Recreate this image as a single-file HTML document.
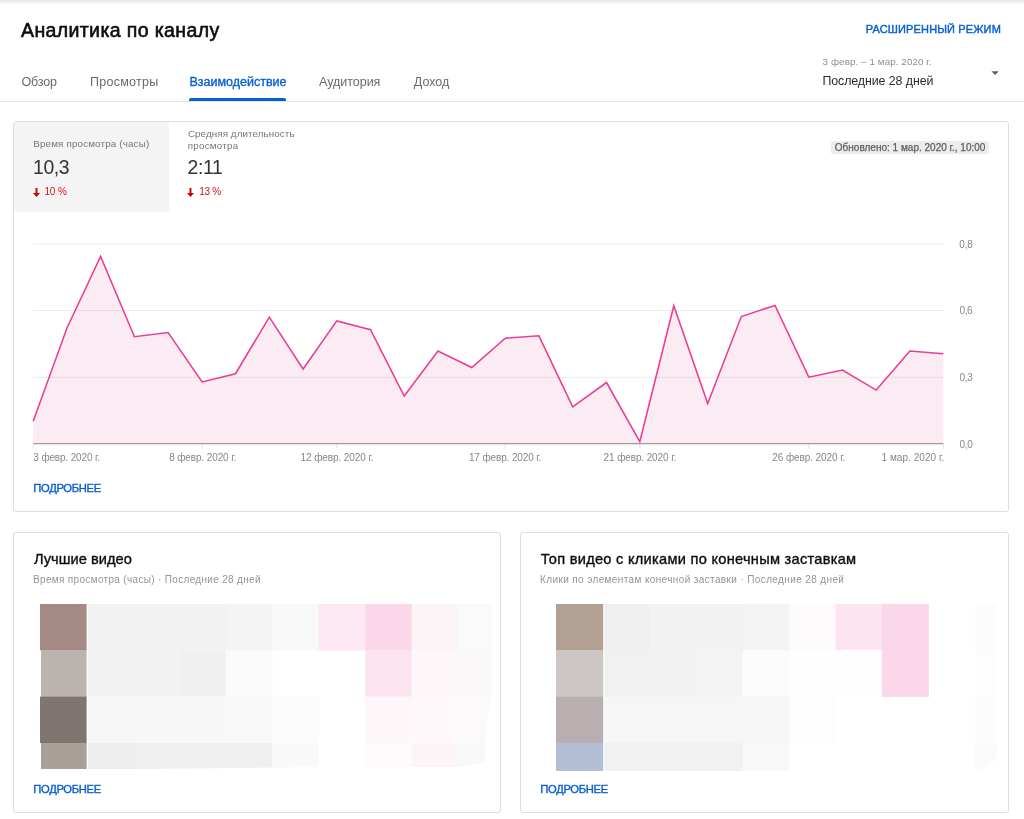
<!DOCTYPE html>
<html lang="ru">
<head>
<meta charset="utf-8">
<title>Аналитика по каналу</title>
<style>
html,body{margin:0;padding:0;}
body{width:1024px;height:819px;position:relative;overflow:hidden;background:#fff;font-family:"Liberation Sans", sans-serif;}
.t{position:absolute;white-space:nowrap;line-height:1;margin:0;padding:0;}
.card{position:absolute;box-sizing:border-box;border:1px solid #dedede;border-radius:3px;background:#fff;}
.abs{position:absolute;}
#w{position:absolute;left:0;top:0;width:1024px;height:819px;will-change:transform;background:#fff;}
</style>
</head>
<body>
<div id="w">
<div class="abs" style="left:0;top:0;width:1024px;height:5px;background:linear-gradient(#e5e5e5,#f4f4f4 50%,#fff);"></div>
<div class="abs" style="left:0;top:100.5px;width:1024px;height:1px;background:#e3e3e3;"></div>
<div class="abs" style="left:188.8px;top:98px;width:97.4px;height:3px;background:#065fd4;border-radius:2px 2px 0 0;"></div>
<svg class="abs" style="left:990px;top:70px;" width="10" height="6" viewBox="0 0 10 6"><path d="M1.4 1.2 L8.8 1.2 L5.1 4.9 Z" fill="#5f5f5f"/></svg>
<div class="card" style="left:13px;top:121px;width:996px;height:391px;"></div>
<div class="card" style="left:13px;top:532px;width:488px;height:281px;"></div>
<div class="card" style="left:520px;top:532px;width:489px;height:281px;"></div>
<div class="abs" style="left:14px;top:122px;width:154.5px;height:89.7px;background:#f4f4f4;border-radius:2px 0 0 0;"></div>
<div class="abs" style="left:831px;top:141px;width:158px;height:13.3px;background:#ececec;border-radius:2px;"></div>
<svg class="abs" style="left:31.95px;top:187px;" width="9" height="11" viewBox="0 0 9 11"><path d="M3.55 0.9 H5.45 V5.9 H8.0 L4.5 9.9 L1.0 5.9 H3.55 Z" fill="#cc0000"/></svg>
<svg class="abs" style="left:186.35px;top:187px;" width="9" height="11" viewBox="0 0 9 11"><path d="M3.55 0.9 H5.45 V5.9 H8.0 L4.5 9.9 L1.0 5.9 H3.55 Z" fill="#cc0000"/></svg>
<svg class="abs" style="left:0;top:230px;" width="1024" height="230" viewBox="0 230 1024 230">
<line x1="33.2" x2="943.3" y1="243.9" y2="243.9" stroke="#ececec" stroke-width="1"/>
<line x1="33.2" x2="943.3" y1="310.5" y2="310.5" stroke="#ececec" stroke-width="1"/>
<line x1="33.2" x2="943.3" y1="377.3" y2="377.3" stroke="#ececec" stroke-width="1"/>
<line x1="33.2" x2="33.2" y1="443.6" y2="448.6" stroke="#e4e4e4" stroke-width="1"/>
<line x1="202.1" x2="202.1" y1="443.6" y2="448.6" stroke="#e4e4e4" stroke-width="1"/>
<line x1="336.8" x2="336.8" y1="443.6" y2="448.6" stroke="#e4e4e4" stroke-width="1"/>
<line x1="505.3" x2="505.3" y1="443.6" y2="448.6" stroke="#e4e4e4" stroke-width="1"/>
<line x1="639.8" x2="639.8" y1="443.6" y2="448.6" stroke="#e4e4e4" stroke-width="1"/>
<line x1="808.8" x2="808.8" y1="443.6" y2="448.6" stroke="#e4e4e4" stroke-width="1"/>
<line x1="943.3" x2="943.3" y1="443.6" y2="448.6" stroke="#e4e4e4" stroke-width="1"/>
<polygon points="33.2,421.2 66.9,328.2 100.6,256.4 134.4,336.7 168.1,332.6 202.1,381.9 235.5,373.7 269.3,317.1 303.1,369.0 336.8,320.9 370.5,329.7 404.2,396.0 438.0,351.1 471.7,367.5 505.3,338.2 538.9,335.8 572.7,406.8 606.5,382.5 639.8,441.7 673.8,305.7 707.7,403.6 741.3,316.5 775.0,305.4 808.8,377.2 842.5,370.1 876.2,390.1 909.9,351.1 943.3,353.7 943.3,443.6 33.2,443.6" fill="rgba(215,55,125,0.10)"/>
<line x1="33.2" x2="943.3" y1="443.6" y2="443.6" stroke="#a39a9e" stroke-width="1.2"/>
<polyline points="33.2,421.2 66.9,328.2 100.6,256.4 134.4,336.7 168.1,332.6 202.1,381.9 235.5,373.7 269.3,317.1 303.1,369.0 336.8,320.9 370.5,329.7 404.2,396.0 438.0,351.1 471.7,367.5 505.3,338.2 538.9,335.8 572.7,406.8 606.5,382.5 639.8,441.7 673.8,305.7 707.7,403.6 741.3,316.5 775.0,305.4 808.8,377.2 842.5,370.1 876.2,390.1 909.9,351.1 943.3,353.7" fill="none" stroke="#eb3c97" stroke-width="1.55" stroke-linejoin="miter" stroke-linecap="butt"/>
</svg>
<svg class="abs" style="left:40.2px;top:603.9px;" width="452.8" height="165.1" viewBox="40.2 603.9 452.8 165.1">
<defs><clipPath id="lc"><path d="M40.2 603.9 H490 L492.5 612 L493 690 L488 715 L484.5 762 L460 767 L300 767.2 L150 768.8 H41.2 V742.9 H40.2 V696.5 H41.2 V650.2 H40.2 Z"/></clipPath></defs><g clip-path="url(#lc)">
<rect x="40.2" y="603.9" width="46.6" height="46.6" fill="#a58a83"/>
<rect x="88.0" y="603.9" width="45.6" height="46.6" fill="#f2f2f2"/>
<rect x="133.3" y="603.9" width="46.7" height="46.6" fill="#f2f2f2"/>
<rect x="179.7" y="603.9" width="46.6" height="46.6" fill="#f2f2f2"/>
<rect x="226.0" y="603.9" width="46.7" height="46.6" fill="#f4f4f4"/>
<rect x="272.4" y="603.9" width="46.7" height="46.6" fill="#f9f9f9"/>
<rect x="318.8" y="603.9" width="47.0" height="46.6" fill="#fde8f3"/>
<rect x="365.5" y="603.9" width="46.7" height="46.6" fill="#fad8ea"/>
<rect x="411.9" y="603.9" width="46.4" height="46.6" fill="#fcf5f8"/>
<rect x="458.0" y="603.9" width="35.3" height="46.6" fill="#fafafa"/>
<rect x="40.2" y="650.2" width="46.6" height="46.6" fill="#bbb3ad"/>
<rect x="88.0" y="650.2" width="45.6" height="46.6" fill="#f2f2f2"/>
<rect x="133.3" y="650.2" width="46.7" height="46.6" fill="#f2f2f2"/>
<rect x="179.7" y="650.2" width="46.6" height="46.6" fill="#f0f0f0"/>
<rect x="226.0" y="650.2" width="46.7" height="46.6" fill="#fafafa"/>
<rect x="365.5" y="650.2" width="46.7" height="46.6" fill="#fbe3f0"/>
<rect x="411.9" y="650.2" width="46.4" height="46.6" fill="#fdf7fa"/>
<rect x="458.0" y="650.2" width="35.3" height="46.6" fill="#fbf8fa"/>
<rect x="40.2" y="696.5" width="46.6" height="46.7" fill="#817572"/>
<rect x="88.0" y="696.5" width="45.6" height="46.7" fill="#f7f7f7"/>
<rect x="133.3" y="696.5" width="46.7" height="46.7" fill="#f7f7f7"/>
<rect x="179.7" y="696.5" width="46.6" height="46.7" fill="#f7f7f7"/>
<rect x="226.0" y="696.5" width="46.7" height="46.7" fill="#f8f8f8"/>
<rect x="272.4" y="696.5" width="46.7" height="46.7" fill="#fcfcfc"/>
<rect x="365.5" y="696.5" width="46.7" height="46.7" fill="#fef7fa"/>
<rect x="411.9" y="696.5" width="46.4" height="46.7" fill="#fef8fb"/>
<rect x="458.0" y="696.5" width="35.3" height="46.7" fill="#fcf9fa"/>
<rect x="40.2" y="742.9" width="46.6" height="26.4" fill="#a9a097"/>
<rect x="88.0" y="742.9" width="45.6" height="26.4" fill="#eeeeee"/>
<rect x="133.3" y="742.9" width="46.7" height="26.4" fill="#efefef"/>
<rect x="179.7" y="742.9" width="46.6" height="26.4" fill="#efefef"/>
<rect x="226.0" y="742.9" width="46.7" height="26.4" fill="#efefef"/>
<rect x="272.4" y="742.9" width="46.7" height="26.4" fill="#f9f9f9"/>
<rect x="365.5" y="742.9" width="46.7" height="26.4" fill="#fffafc"/>
<rect x="411.9" y="742.9" width="46.4" height="26.4" fill="#fbf5f7"/>
<rect x="458.0" y="742.9" width="35.3" height="26.4" fill="#f8f8f8"/>
</g></svg>
<svg class="abs" style="left:556.4px;top:603.9px;" width="441.2" height="166.9" viewBox="556.4 603.9 441.2 166.9">
<defs><clipPath id="rc"><path d="M556.4 603.9 H997.6 V755 Q997 765 975.4 770.8 H556.4 Z"/></clipPath></defs><g clip-path="url(#rc)">
<rect x="556.4" y="603.9" width="47.2" height="46.4" fill="#b2a092"/>
<rect x="604.8" y="603.9" width="46.0" height="46.4" fill="#efefef"/>
<rect x="650.5" y="603.9" width="46.4" height="46.4" fill="#f2f2f2"/>
<rect x="696.6" y="603.9" width="46.7" height="46.4" fill="#f2f2f2"/>
<rect x="743.0" y="603.9" width="47.1" height="46.4" fill="#f3f3f3"/>
<rect x="789.8" y="603.9" width="46.4" height="46.4" fill="#fdfbfc"/>
<rect x="835.9" y="603.9" width="46.7" height="46.4" fill="#fce4f0"/>
<rect x="882.3" y="603.9" width="47.0" height="46.4" fill="#fad8ea"/>
<rect x="975.4" y="603.9" width="22.5" height="46.4" fill="#fcfcfc"/>
<rect x="556.4" y="650.0" width="47.2" height="46.8" fill="#ccc6c5"/>
<rect x="604.8" y="650.0" width="46.0" height="46.8" fill="#f1f1f1"/>
<rect x="650.5" y="650.0" width="46.4" height="46.8" fill="#f1f1f1"/>
<rect x="696.6" y="650.0" width="46.7" height="46.8" fill="#f3f3f3"/>
<rect x="743.0" y="650.0" width="47.1" height="46.8" fill="#fcfcfc"/>
<rect x="789.8" y="650.0" width="46.4" height="46.8" fill="#fefefe"/>
<rect x="835.9" y="650.0" width="46.7" height="46.8" fill="#fefefe"/>
<rect x="882.3" y="650.0" width="47.0" height="46.8" fill="#fad8ea"/>
<rect x="975.4" y="650.0" width="22.5" height="46.8" fill="#fdfdfd"/>
<rect x="556.4" y="696.5" width="47.2" height="46.7" fill="#b9aeb0"/>
<rect x="604.8" y="696.5" width="46.0" height="46.7" fill="#f6f6f6"/>
<rect x="650.5" y="696.5" width="46.4" height="46.7" fill="#f6f6f6"/>
<rect x="696.6" y="696.5" width="46.7" height="46.7" fill="#f6f6f6"/>
<rect x="743.0" y="696.5" width="47.1" height="46.7" fill="#f7f7f7"/>
<rect x="789.8" y="696.5" width="46.4" height="46.7" fill="#fdfdfd"/>
<rect x="975.4" y="696.5" width="22.5" height="46.7" fill="#fcfcfc"/>
<rect x="556.4" y="742.9" width="47.2" height="28.2" fill="#b3bdd3"/>
<rect x="604.8" y="742.9" width="46.0" height="28.2" fill="#f1f1f1"/>
<rect x="650.5" y="742.9" width="46.4" height="28.2" fill="#f1f1f1"/>
<rect x="696.6" y="742.9" width="46.7" height="28.2" fill="#f1f1f1"/>
<rect x="743.0" y="742.9" width="47.1" height="28.2" fill="#f8f8f8"/>
<rect x="975.4" y="742.9" width="22.5" height="28.2" fill="#fbfbfb"/>
</g></svg>
<div class="t" id="title" style="left:21.00px;top:21.00px;font-size:19.50px;font-weight:400;color:#0d0d0d;letter-spacing:0.383px;-webkit-text-stroke:0.6px #0d0d0d;">Аналитика по каналу</div>
<div class="t" id="tab1" style="left:21.56px;top:76.00px;font-size:12.50px;font-weight:400;color:#6a6a6a;letter-spacing:-0.183px;">Обзор</div>
<div class="t" id="tab2" style="left:89.88px;top:76.00px;font-size:12.50px;font-weight:400;color:#6a6a6a;letter-spacing:0.293px;">Просмотры</div>
<div class="t" id="tab3" style="left:189.42px;top:76.00px;font-size:12.50px;font-weight:400;color:#065fd4;letter-spacing:0.002px;-webkit-text-stroke:0.35px #065fd4;">Взаимодействие</div>
<div class="t" id="tab4" style="left:319.12px;top:76.00px;font-size:12.50px;font-weight:400;color:#6a6a6a;letter-spacing:-0.038px;">Аудитория</div>
<div class="t" id="tab5" style="left:413.87px;top:76.00px;font-size:12.50px;font-weight:400;color:#6a6a6a;letter-spacing:-0.004px;">Доход</div>
<div class="t" id="adv" style="left:865.77px;top:24.00px;font-size:11.00px;font-weight:400;color:#065fd4;letter-spacing:0.140px;-webkit-text-stroke:0.42px #065fd4;">РАСШИРЕННЫЙ РЕЖИМ</div>
<div class="t" id="dsm" style="left:822.58px;top:57.00px;font-size:9.80px;font-weight:400;color:#8e8e8e;letter-spacing:0.094px;">3 февр. – 1 мар. 2020 г.</div>
<div class="t" id="dlg" style="left:822.38px;top:75.00px;font-size:12.40px;font-weight:400;color:#2b2b2b;letter-spacing:-0.077px;">Последние 28 дней</div>
<div class="t" id="t1l" style="left:33.22px;top:139.00px;font-size:9.80px;font-weight:400;color:#767676;letter-spacing:0.169px;">Время просмотра (часы)</div>
<div class="t" id="t1v" style="left:33.04px;top:158.00px;font-size:19.40px;font-weight:400;color:#333333;letter-spacing:-0.413px;">10,3</div>
<div class="t" id="t1d" style="left:44.38px;top:187.00px;font-size:10.00px;font-weight:400;color:#d01414;letter-spacing:-0.071px;">10 %</div>
<div class="t" id="t2l1" style="left:187.89px;top:129.00px;font-size:9.80px;font-weight:400;color:#767676;letter-spacing:0.098px;">Средняя длительность</div>
<div class="t" id="t2l2" style="left:187.67px;top:141.00px;font-size:9.80px;font-weight:400;color:#767676;letter-spacing:0.256px;">просмотра</div>
<div class="t" id="t2v" style="left:187.41px;top:158.00px;font-size:19.40px;font-weight:400;color:#333333;letter-spacing:-0.306px;">2:11</div>
<div class="t" id="t2d" style="left:199.13px;top:187.00px;font-size:10.00px;font-weight:400;color:#d01414;letter-spacing:-0.231px;">13 %</div>
<div class="t" id="upd" style="left:834.82px;top:143.00px;font-size:10.00px;font-weight:400;color:#606060;letter-spacing:0.006px;-webkit-text-stroke:0.25px #5c5c5c;">Обновлено: 1 мар. 2020 г., 10:00</div>
<div class="t" id="more1" style="left:33.25px;top:483.00px;font-size:11.20px;font-weight:400;color:#065fd4;letter-spacing:-0.302px;-webkit-text-stroke:0.38px #065fd4;">ПОДРОБНЕЕ</div>
<div class="t" id="c2t" style="left:33.92px;top:552.00px;font-size:14.60px;font-weight:400;color:#0d0d0d;letter-spacing:0.057px;-webkit-text-stroke:0.36px #0d0d0d;">Лучшие видео</div>
<div class="t" id="c2s" style="left:33.05px;top:575.00px;font-size:10.00px;font-weight:400;color:#949494;letter-spacing:0.325px;">Время просмотра (часы) · Последние 28 дней</div>
<div class="t" id="more2" style="left:33.25px;top:784.00px;font-size:11.20px;font-weight:400;color:#065fd4;letter-spacing:-0.302px;-webkit-text-stroke:0.38px #065fd4;">ПОДРОБНЕЕ</div>
<div class="t" id="c3t" style="left:540.74px;top:552.00px;font-size:14.60px;font-weight:400;color:#0d0d0d;letter-spacing:0.280px;-webkit-text-stroke:0.36px #0d0d0d;">Топ видео с кликами по конечным заставкам</div>
<div class="t" id="c3s" style="left:540.05px;top:575.00px;font-size:10.00px;font-weight:400;color:#949494;letter-spacing:0.378px;">Клики по элементам конечной заставки · Последние 28 дней</div>
<div class="t" id="more3" style="left:540.25px;top:784.00px;font-size:11.20px;font-weight:400;color:#065fd4;letter-spacing:-0.302px;-webkit-text-stroke:0.38px #065fd4;">ПОДРОБНЕЕ</div>
<div class="t" id="ax0" style="left:33.35px;top:453.00px;font-size:10.00px;font-weight:400;color:#878787;letter-spacing:-0.151px;">3 февр. 2020 г.</div>
<div class="t" id="ax1" style="left:169.14px;top:453.00px;font-size:10.00px;font-weight:400;color:#878787;letter-spacing:-0.117px;">8 февр. 2020 г.</div>
<div class="t" id="ax2" style="left:300.61px;top:453.00px;font-size:10.00px;font-weight:400;color:#878787;letter-spacing:-0.097px;">12 февр. 2020 г.</div>
<div class="t" id="ax3" style="left:468.92px;top:453.00px;font-size:10.00px;font-weight:400;color:#878787;letter-spacing:-0.128px;">17 февр. 2020 г.</div>
<div class="t" id="ax4" style="left:603.59px;top:453.00px;font-size:10.00px;font-weight:400;color:#878787;letter-spacing:-0.114px;">21 февр. 2020 г.</div>
<div class="t" id="ax5" style="left:772.28px;top:453.00px;font-size:10.00px;font-weight:400;color:#878787;letter-spacing:-0.089px;">26 февр. 2020 г.</div>
<div class="t" id="ax6" style="left:881.54px;top:453.00px;font-size:10.00px;font-weight:400;color:#878787;letter-spacing:0.039px;">1 мар. 2020 г.</div>
<div class="t" id="y0" style="left:959.36px;top:240.00px;font-size:10.00px;font-weight:400;color:#878787;letter-spacing:-0.193px;">0,8</div>
<div class="t" id="y1" style="left:959.42px;top:306.00px;font-size:10.00px;font-weight:400;color:#878787;letter-spacing:-0.326px;">0,6</div>
<div class="t" id="y2" style="left:959.59px;top:373.00px;font-size:10.00px;font-weight:400;color:#878787;letter-spacing:-0.367px;">0,3</div>
<div class="t" id="y3" style="left:959.47px;top:440.00px;font-size:10.00px;font-weight:400;color:#878787;letter-spacing:-0.301px;">0,0</div>
</div>
</body>
</html>
